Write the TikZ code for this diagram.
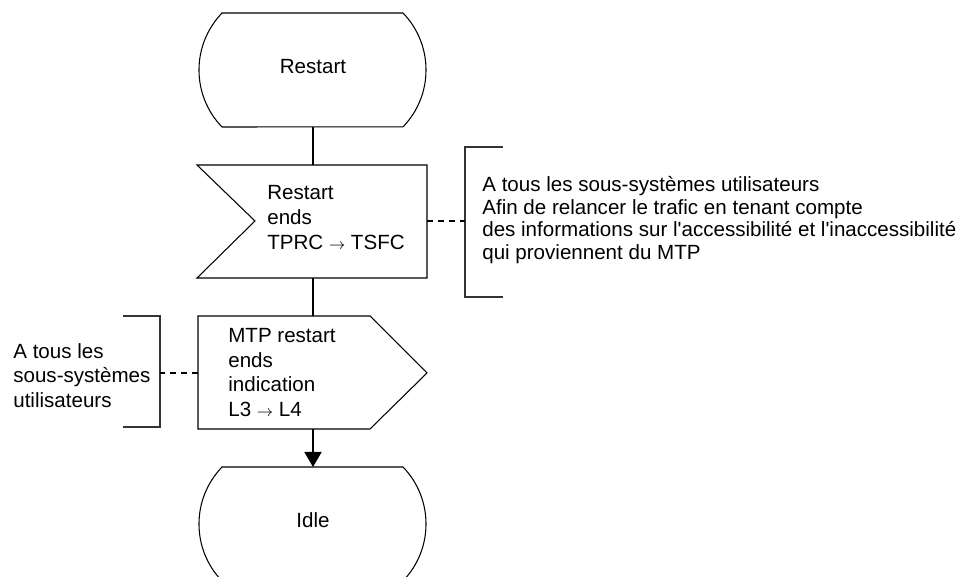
\documentclass[tikz,border=0pt]{standalone}
\usepackage{fontspec}
\setmainfont{Liberation Sans}
\usepackage{tikz}
\usetikzlibrary{arrows.meta}

\tikzset{
  sdl/.style={line width=0.6pt},
  flow/.style={line width=1.1pt},
  cmtline/.style={line width=0.8pt, dash pattern=on 3.4pt off 2.8pt},
  bracket/.style={line width=0.6pt, black!80},
  txt/.style={inner sep=0pt, align=left, font=\fontsize{11.7}{14}\selectfont},
  cmttxt/.style={inner sep=0pt, align=left, font=\fontsize{11.7}{12.8}\selectfont}
}

\begin{document}
\begin{tikzpicture}[x=0.02cm,y=0.02cm,>={Triangle[length=0.3cm,width=0.34cm]}]

\useasboundingbox (0,0) rectangle (965,577);

% --- Terminal Restart
\draw[sdl] (222,564) -- (403,564) arc[start angle=44,end angle=-44,radius=82]
  -- (222,450) arc[start angle=224,end angle=136,radius=82] -- cycle;
\node[txt] (restart) at (313,510) {Restart};
\coordinate (restart-s) at (313,450);

% --- Entree (restart ends)
\draw[sdl] (197,412) -- (427,412) -- (427,299) -- (197,299) -- (255,356) -- cycle;
\node[txt, anchor=west] (ends) at (267,359.5) {Restart\\ends\\TPRC {\small$\rightarrow$}\ TSFC};
\coordinate (ends-n) at (313,412);
\coordinate (ends-s) at (313,299);
\coordinate (ends-e) at (427,356);

% --- Commentaire a droite
\coordinate (cmt1) at (465,356);
\draw[bracket] (503,430) -- (465,430) -- (465,280) -- (503,280);
\node[cmttxt, anchor=west] (cmt1txt) at (482,357)
  {A tous les sous-systèmes utilisateurs\\Afin de relancer le trafic en tenant compte\\des informations sur l\textquotesingle accessibilité et l\textquotesingle inaccessibilité\\qui proviennent du MTP};
\draw[cmtline] (ends-e) -- (cmt1);

% --- Sortie (MTP restart ends indication)
\draw[sdl] (198,261) -- (370,261) -- (427,204) -- (370,148) -- (198,148) -- cycle;
\node[txt, anchor=west] (mtp) at (228,204.5) {MTP restart\\ends\\indication\\L3 {\small$\rightarrow$}\ L4};
\coordinate (mtp-n) at (313,261);
\coordinate (mtp-s) at (313,148);
\coordinate (mtp-w) at (198,204);

% --- Commentaire a gauche
\coordinate (cmt2) at (160,204);
\draw[bracket] (123,261) -- (160,261) -- (160,150) -- (123,150);
\node[txt, anchor=west] (cmt2txt) at (13,201.5) {A tous les\\sous-systèmes\\utilisateurs};
\draw[cmtline] (mtp-w) -- (cmt2);

% --- Terminal Idle
\draw[sdl] (222,110) -- (403,110) arc[start angle=44,end angle=-44,radius=82]
  -- (222,-4) arc[start angle=224,end angle=136,radius=82] -- cycle;
\node[txt] (idle) at (313,56.5) {Idle};
\coordinate (idle-n) at (313,110);

% --- Liaisons
\draw[flow] (restart-s) -- (ends-n);
\draw[flow] (ends-s) -- (mtp-n);
\draw[flow,->] (mtp-s) -- (idle-n);

\end{tikzpicture}
\end{document}
